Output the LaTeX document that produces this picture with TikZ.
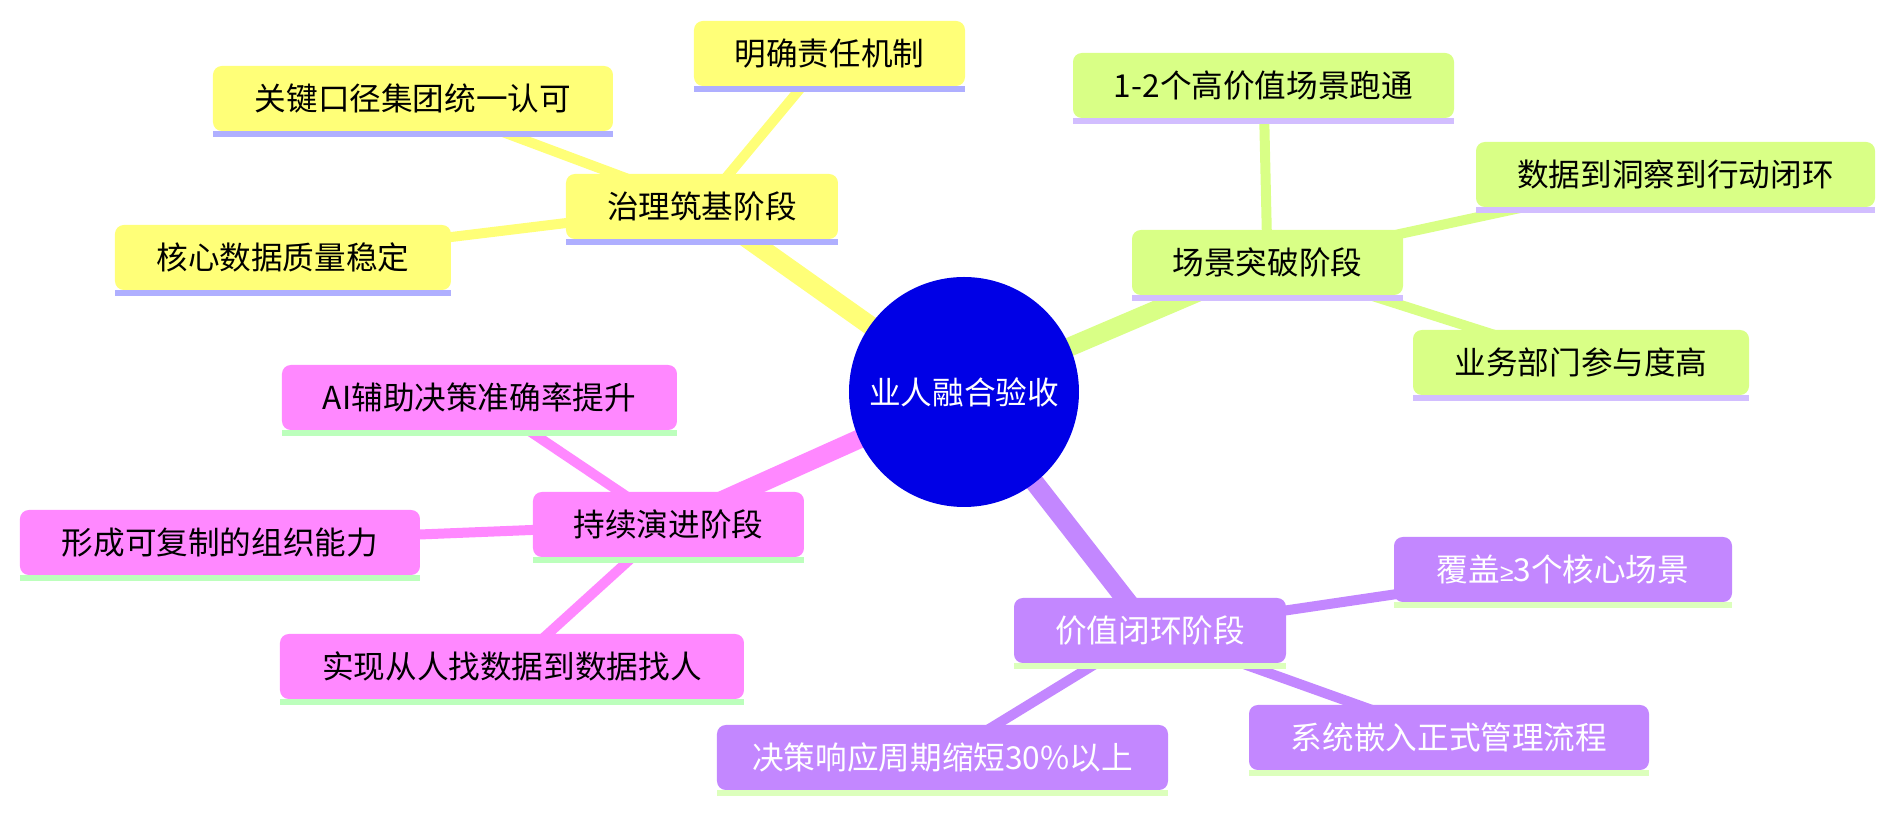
\documentclass[tikz,border=0pt]{standalone}
\usepackage{fontspec}
\newfontfamily\mmfont{Noto Sans CJK SC}
\newfontfamily\symfont{Liberation Sans}
\usetikzlibrary{backgrounds}

\definecolor{rootblue}{HTML}{0000E6}
\definecolor{govfill}{HTML}{FFFF78}
\definecolor{govline}{HTML}{AFAFFF}
\definecolor{scenefill}{HTML}{D9FF86}
\definecolor{sceneline}{HTML}{D2BEFF}
\definecolor{evofill}{HTML}{FF88FF}
\definecolor{evoline}{HTML}{BCFFBC}
\definecolor{valfill}{HTML}{C387FF}
\definecolor{valline}{HTML}{DCFFBC}

\tikzset{
  mmbox/.style={
    rounded corners=5pt,
    minimum height=1.3cm,
    inner sep=0pt,
    font=\mmfont\fontsize{18}{22}\selectfont
  },
  underline/.style={
    append after command={
      \pgfextra{
        \begin{pgfinterruptpath}
        \fill[#1, sharp corners] (\tikzlastnode.south west) rectangle ([yshift=-0.12cm]\tikzlastnode.south east);
        \end{pgfinterruptpath}
      }
    }
  },
  govbox/.style={mmbox, fill=govfill, underline=govline},
  scenebox/.style={mmbox, fill=scenefill, underline=sceneline},
  evobox/.style={mmbox, fill=evofill, underline=evoline},
  valbox/.style={mmbox, fill=valfill, underline=valline, text=white},
  trunk/.style={line width=0.38cm},
  twig/.style={line width=0.2cm}
}

\begin{document}
\begin{tikzpicture}

%%%%%%%%%%%%%%%%%%%%%%%%%%%%%%%%%%%%%%%%%%%%%%%%%%%%%%%%%%%%
% ROOT
%%%%%%%%%%%%%%%%%%%%%%%%%%%%%%%%%%%%%%%%%%%%%%%%%%%%%%%%%%%%

\node[
circle,
fill=rootblue,
minimum size=4.6cm,
inner sep=0pt,
text=white,
font=\mmfont\fontsize{18}{22}\selectfont
](root) at (0,0) {业人融合验收};

\useasboundingbox
([xshift=-19.28cm,yshift=7.84cm]root.center)
rectangle
([xshift=18.62cm,yshift=-8.42cm]root.center);

%%%%%%%%%%%%%%%%%%%%%%%%%%%%%%%%%%%%%%%%%%%%%%%%%%%%%%%%%%%%
% Governance stage
%%%%%%%%%%%%%%%%%%%%%%%%%%%%%%%%%%%%%%%%%%%%%%%%%%%%%%%%%%%%

\node[govbox, minimum width=5.44cm](gov)
at ([xshift=-5.24cm,yshift=3.71cm]root)
{治理筑基阶段};

\node[govbox, minimum width=5.42cm](duty)
at ([xshift=-2.69cm,yshift=6.77cm]root)
{明确责任机制};

\node[govbox, minimum width=8cm](caliber)
at ([xshift=-11.02cm,yshift=5.87cm]root)
{关键口径集团统一认可};

\node[govbox, minimum width=6.72cm](quality)
at ([xshift=-13.62cm,yshift=2.69cm]root)
{核心数据质量稳定};

%%%%%%%%%%%%%%%%%%%%%%%%%%%%%%%%%%%%%%%%%%%%%%%%%%%%%%%%%%%%
% Scenario stage
%%%%%%%%%%%%%%%%%%%%%%%%%%%%%%%%%%%%%%%%%%%%%%%%%%%%%%%%%%%%

\node[scenebox, minimum width=5.42cm](scene)
at ([xshift=6.07cm,yshift=2.59cm]root)
{场景突破阶段};

\node[scenebox, minimum width=7.62cm](run)
at ([xshift=5.99cm,yshift=6.13cm]root)
{1-2个高价值场景跑通};

\node[scenebox, minimum width=7.98cm](closedloop)
at ([xshift=14.23cm,yshift=4.35cm]root)
{数据到洞察到行动闭环};

\node[scenebox, minimum width=6.72cm](dept)
at ([xshift=12.34cm,yshift=0.59cm]root)
{业务部门参与度高};

%%%%%%%%%%%%%%%%%%%%%%%%%%%%%%%%%%%%%%%%%%%%%%%%%%%%%%%%%%%%
% Evolution stage
%%%%%%%%%%%%%%%%%%%%%%%%%%%%%%%%%%%%%%%%%%%%%%%%%%%%%%%%%%%%

\node[evobox, minimum width=5.42cm](evolve)
at ([xshift=-5.91cm,yshift=-2.65cm]root)
{持续演进阶段};

\node[evobox, minimum width=7.9cm](ai)
at ([xshift=-9.69cm,yshift=-0.11cm]root)
{AI辅助决策准确率提升};

\node[evobox, minimum width=8cm](org)
at ([xshift=-14.88cm,yshift=-3.01cm]root)
{形成可复制的组织能力};

\node[evobox, minimum width=9.28cm](find)
at ([xshift=-9.04cm,yshift=-5.49cm]root)
{实现从人找数据到数据找人};

%%%%%%%%%%%%%%%%%%%%%%%%%%%%%%%%%%%%%%%%%%%%%%%%%%%%%%%%%%%%
% Value stage
%%%%%%%%%%%%%%%%%%%%%%%%%%%%%%%%%%%%%%%%%%%%%%%%%%%%%%%%%%%%

\node[valbox, minimum width=5.44cm](value)
at ([xshift=3.72cm,yshift=-4.77cm]root)
{价值闭环阶段};

\node[valbox, minimum width=6.76cm](cover)
at ([xshift=11.98cm,yshift=-3.55cm]root)
{覆盖{\symfont\fontsize{14}{22}\selectfont ≥}3个核心场景};

\node[valbox, minimum width=8cm](embed)
at ([xshift=9.70cm,yshift=-6.91cm]root)
{系统嵌入正式管理流程};

\node[valbox, minimum width=9.02cm](cycle)
at ([xshift=-0.43cm,yshift=-7.31cm]root)
{决策响应周期缩短30\%以上};

%%%%%%%%%%%%%%%%%%%%%%%%%%%%%%%%%%%%%%%%%%%%%%%%%%%%%%%%%%%%
% Edges
%%%%%%%%%%%%%%%%%%%%%%%%%%%%%%%%%%%%%%%%%%%%%%%%%%%%%%%%%%%%

\begin{scope}[on background layer]
\draw[trunk, govfill] (root.center) -- (gov.center);
\draw[twig, govfill] (gov.center) -- (duty.center);
\draw[twig, govfill] (gov.center) -- (caliber.center);
\draw[twig, govfill] (gov.center) -- (quality.center);

\draw[trunk, scenefill] (root.center) -- (scene.center);
\draw[twig, scenefill] (scene.center) -- (run.center);
\draw[twig, scenefill] (scene.center) -- (closedloop.center);
\draw[twig, scenefill] (scene.center) -- (dept.center);

\draw[trunk, evofill] (root.center) -- (evolve.center);
\draw[twig, evofill] (evolve.center) -- (ai.center);
\draw[twig, evofill] (evolve.center) -- (org.center);
\draw[twig, evofill] (evolve.center) -- (find.center);

\draw[trunk, valfill] (root.center) -- (value.center);
\draw[twig, valfill] (value.center) -- (cover.center);
\draw[twig, valfill] (value.center) -- (embed.center);
\draw[twig, valfill] (value.center) -- (cycle.center);
\end{scope}

\end{tikzpicture}
\end{document}
